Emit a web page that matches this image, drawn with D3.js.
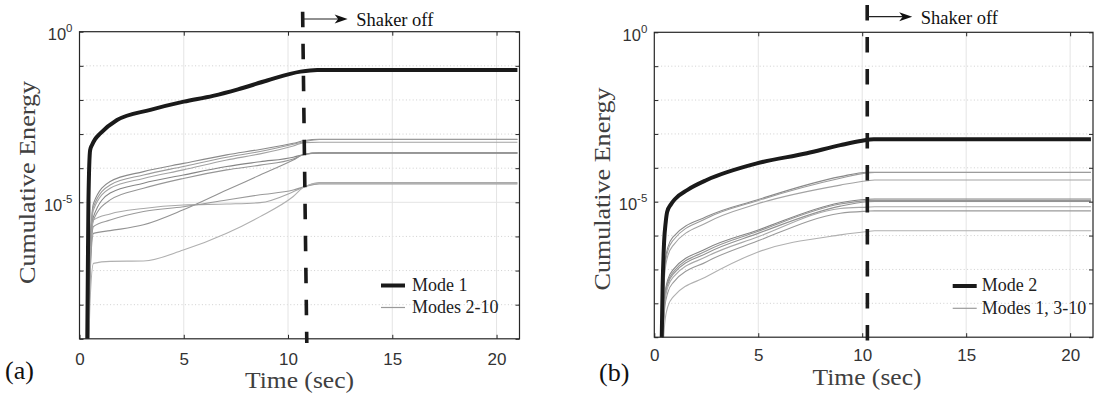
<!DOCTYPE html>
<html><head><meta charset="utf-8">
<script src="https://cdn.jsdelivr.net/npm/d3@7"></script>
<style>
body{margin:0;background:#fff;}
svg{display:block;}
</style></head><body>
<svg id="c" width="1094" height="395"></svg>
<script>
// ===== data (energies given as log10) =====
const xTicks = [0, 5, 10, 15, 20];
const xGrid = [5, 10, 15, 20];
const yLabelled = [1, 1e-5];
const yDecades = [1, 1e-1, 1e-2, 1e-3, 1e-4, 1e-5, 1e-6, 1e-7, 1e-8, 1e-9];
const yMinorGrid = [1e-1, 1e-2, 1e-3, 1e-4, 1e-6, 1e-7, 1e-8];

// Panel (a)
const tMode1 = [0.36, 0.40, 0.43, 0.51, 0.60, 0.75, 1.0, 1.8, 3.4, 5.0, 6.4, 7.6, 9.0, 10.6, 11.4, 21];
const mode1Log = [-10, -7, -4.93, -3.47, -3.32, -3.15, -2.98, -2.59, -2.29, -2.05, -1.88, -1.69, -1.43, -1.17, -1.12, -1.12];
const tOthersA = [0.40, 0.5, 0.67, 1.47, 3.07, 4.98, 7.06, 8.66, 10.25, 10.8, 11.5, 21];
const othersALog = [
  [-10, -6.5, -5.03, -4.39, -4.10, -3.86, -3.61, -3.45, -3.27, -3.19, -3.15, -3.15],
  [-10, -6.6, -5.13, -4.49, -4.20, -3.95, -3.68, -3.51, -3.30, -3.22, -3.16, -3.16],
  [-10, -6.7, -5.22, -4.59, -4.30, -4.05, -3.76, -3.58, -3.35, -3.25, -3.24, -3.24],
  [-10, -6.9, -5.42, -4.73, -4.44, -4.20, -3.95, -3.81, -3.68, -3.59, -3.55, -3.55],
  [-10, -7.0, -5.52, -4.93, -4.59, -4.30, -4.05, -3.91, -3.73, -3.59, -3.56, -3.56],
  [-10, -7.3, -5.91, -5.83, -5.66, -5.22, -4.64, -4.20, -3.76, -3.59, -3.55, -3.55],
  [-10, -7.0, -5.52, -5.34, -5.18, -5.08, -5.05, -5.01, -4.69, -4.54, -4.42, -4.42],
  [-10, -7.2, -5.71, -5.52, -5.27, -5.13, -4.93, -4.78, -4.64, -4.54, -4.46, -4.46],
  [-10, -8.0, -6.79, -6.73, -6.72, -6.40, -5.91, -5.42, -4.83, -4.54, -4.44, -4.44]
];
const shakerOffA = [10.70, 10.90];

// Panel (b)
const tMode2 = [0.33, 0.40, 0.47, 0.55, 0.62, 0.8, 1.0, 1.6, 2.52, 4.93, 7.34, 8.95, 10.0, 10.55, 21];
const mode2Log = [-10, -7.5, -6.2, -5.6, -5.3, -5.08, -4.92, -4.65, -4.36, -3.87, -3.57, -3.33, -3.20, -3.16, -3.16];
const tOthersB = [0.36, 0.5, 0.65, 0.92, 2.52, 4.93, 8.95, 10.24, 10.6, 21];
const othersBLog = [
  [-10, -6.9, -6.35, -6.03, -5.44, -4.95, -4.26, -4.13, -4.13, -4.13],
  [-10, -7.0, -6.45, -6.13, -5.49, -4.98, -4.31, -4.15, -4.14, -4.14],
  [-10, -7.15, -6.6, -6.28, -5.62, -5.07, -4.51, -4.38, -4.36, -4.36],
  [-10, -7.8, -7.3, -7.0, -6.38, -5.85, -5.03, -4.93, -4.92, -4.92],
  [-10, -7.85, -7.37, -7.07, -6.45, -5.89, -5.07, -4.97, -4.96, -4.96],
  [-10, -7.9, -7.43, -7.13, -6.52, -5.95, -5.13, -5.00, -4.99, -4.99],
  [-10, -8.0, -7.52, -7.22, -6.62, -6.05, -5.20, -5.16, -5.15, -5.15],
  [-10, -8.15, -7.68, -7.38, -6.77, -6.17, -5.34, -5.28, -5.27, -5.27],
  [-10, -8.6, -8.1, -7.8, -7.21, -6.5, -5.98, -5.88, -5.86, -5.86]
];
const shakerOffB = [10.24, 10.25];

const legendA = ["Mode 1", "Modes 2-10"];
const legendB = ["Mode 2", "Modes 1, 3-10"];
const panelLabels = ["(a)", "(b)"];
const grays = ['#8a8a8a', '#9c9c9c', '#a3a3a3', '#858585', '#969696', '#939393', '#a8a8a8', '#9a9a9a', '#b0b0b0'];

// ===== drawing =====
const svg = d3.select('#c');
const defs = svg.append('defs');
const serif = "'Liberation Serif','Times New Roman',serif";
const sans = "'Liberation Sans',Arial,Helvetica,sans-serif";

function zipLog(ts, logs) { return ts.map((t, i) => [t, Math.pow(10, logs[i])]); }

function drawPanel(p) {
  const x = d3.scaleLinear().domain([0, 21.1]).range([p.left, p.right]);
  const y = d3.scaleLog().domain([1e-9, 1]).range([p.bottom, p.top]);
  const g = svg.append('g');

  defs.append('clipPath').attr('id', 'clip' + p.id)
    .append('rect').attr('x', p.left).attr('y', p.top)
    .attr('width', p.right - p.left).attr('height', p.bottom - p.top);

  // minor dotted grid
  g.selectAll('line.minor').data(yMinorGrid).join('line').attr('class', 'minor')
    .attr('x1', p.left).attr('x2', p.right)
    .attr('y1', d => y(d)).attr('y2', d => y(d))
    .attr('stroke', '#c4c4c4').attr('stroke-width', 0.8).attr('stroke-dasharray', '1,2.4');
  // major grid
  g.selectAll('line.vg').data(xGrid).join('line').attr('class', 'vg')
    .attr('x1', d => x(d)).attr('x2', d => x(d))
    .attr('y1', p.top).attr('y2', p.bottom)
    .attr('stroke', '#e4e4e4').attr('stroke-width', 1);
  g.append('line').attr('x1', p.left).attr('x2', p.right)
    .attr('y1', y(1e-5)).attr('y2', y(1e-5))
    .attr('stroke', '#e4e4e4').attr('stroke-width', 1);

  // series
  const line = d3.line().x(d => x(d[0])).y(d => y(d[1])).curve(d3.curveMonotoneX);
  const lg = g.append('g').attr('clip-path', `url(#clip${p.id})`);
  p.others.forEach((s, i) => {
    lg.append('path').datum(zipLog(p.tOthers, s)).attr('d', line)
      .attr('fill', 'none').attr('stroke', grays[i % grays.length]).attr('stroke-width', 1.1);
  });
  lg.append('path').datum(zipLog(p.tMain, p.main)).attr('d', line)
    .attr('fill', 'none').attr('stroke', '#1a1a1a').attr('stroke-width', 4)
    .attr('stroke-linejoin', 'round');

  // axes (ticks inward)
  const styleAxis = sel => {
    sel.select('.domain').remove();
    sel.selectAll('.tick line').attr('stroke', '#262626').attr('stroke-width', 1);
  };
  g.append('g').attr('transform', `translate(0,${p.bottom})`)
    .call(d3.axisBottom(x).tickValues(xTicks).tickSize(-4).tickPadding(p.xTickPad))
    .call(styleAxis)
    .call(s => s.selectAll('.tick text').attr('fill', '#333').attr('font-family', sans).attr('font-size', 17));
  g.append('g').attr('transform', `translate(0,${p.top})`)
    .call(d3.axisTop(x).tickValues(xGrid).tickSize(-4).tickFormat(() => ''))
    .call(styleAxis);
  g.append('g').attr('transform', `translate(${p.left},0)`)
    .call(d3.axisLeft(y).tickValues(yDecades).tickSize(-4).tickFormat(() => ''))
    .call(styleAxis);
  g.append('g').attr('transform', `translate(${p.right},0)`)
    .call(d3.axisRight(y).tickValues(yDecades).tickSize(-4).tickFormat(() => ''))
    .call(styleAxis);

  // y tick labels with superscripts
  yLabelled.forEach(v => {
    const t = g.append('text').attr('x', p.left - 7).attr('y', y(v) + 8.5)
      .attr('text-anchor', 'end').attr('fill', '#333').attr('font-family', sans).attr('font-size', 16.5);
    t.append('tspan').text('10');
    t.append('tspan').attr('dy', -8).attr('font-size', 11.5).text(String(Math.round(Math.log10(v))));
  });

  // box
  g.append('rect').attr('x', p.left).attr('y', p.top)
    .attr('width', p.right - p.left).attr('height', p.bottom - p.top)
    .attr('fill', 'none').attr('stroke', '#262626').attr('stroke-width', 1.2);

  // axis titles
  g.append('text').attr('transform', `translate(${p.yLabelX},${p.yLabelY}) rotate(-90)`)
    .attr('text-anchor', 'middle').attr('font-family', serif).attr('font-size', 23.5)
    .attr('fill', '#404040').attr('textLength', 203).attr('lengthAdjust', 'spacingAndGlyphs')
    .text('Cumulative Energy');
  g.append('text').attr('x', p.xLabelX).attr('y', p.xLabelY)
    .attr('text-anchor', 'middle').attr('font-family', serif).attr('font-size', 22.5)
    .attr('fill', '#404040').attr('textLength', 109).attr('lengthAdjust', 'spacingAndGlyphs')
    .text('Time (sec)');

  // panel label
  g.append('text').attr('x', p.tagX).attr('y', p.tagY)
    .attr('font-family', serif).attr('font-size', 26).attr('fill', '#111')
    .text(p.tag);

  // shaker-off dashed line
  g.append('line')
    .attr('x1', x(p.shaker[0])).attr('y1', p.dashY0)
    .attr('x2', x(p.shaker[1])).attr('y2', p.dashY1)
    .attr('stroke', '#1a1a1a').attr('stroke-width', 3.6).attr('stroke-dasharray', '15.5,16.5');

  // arrow + text
  const ax0 = x(p.shaker[0]), ay = p.arrowY, tip = ax0 + 45;
  g.append('line').attr('x1', ax0).attr('x2', tip - 6).attr('y1', ay).attr('y2', ay)
    .attr('stroke', '#222').attr('stroke-width', 1.2);
  g.append('path')
    .attr('d', `M${tip},${ay} L${tip - 13},${ay - 4.5} L${tip - 9.5},${ay} L${tip - 13},${ay + 4.5} Z`)
    .attr('fill', '#111');
  g.append('text').attr('x', tip + 8.5).attr('y', ay + 7)
    .attr('font-family', serif).attr('font-size', 18.5).attr('fill', '#111')
    .text('Shaker off');

  // legend
  const lgX0 = p.legX, lgX1 = p.legX + 24;
  g.append('line').attr('x1', lgX0).attr('x2', lgX1).attr('y1', p.legY0).attr('y2', p.legY0)
    .attr('stroke', '#1a1a1a').attr('stroke-width', 4);
  g.append('line').attr('x1', lgX0).attr('x2', lgX1).attr('y1', p.legY1).attr('y2', p.legY1)
    .attr('stroke', '#9a9a9a').attr('stroke-width', 1.2);
  g.append('text').attr('x', lgX1 + p.legGap).attr('y', p.legY0 + 5)
    .attr('font-family', serif).attr('font-size', 18).attr('fill', '#222').text(p.legend[0]);
  g.append('text').attr('x', lgX1 + p.legGap).attr('y', p.legY1 + 5.5)
    .attr('font-family', serif).attr('font-size', 18).attr('fill', '#222').text(p.legend[1]);
}

drawPanel({
  id: 'a', left: 79.5, right: 519.5, top: 31.7, bottom: 338.8, xTickPad: 14,
  tMain: tMode1, main: mode1Log, tOthers: tOthersA, others: othersALog,
  yLabelX: 34.5, yLabelY: 182.5, xLabelX: 299.5, xLabelY: 388,
  tag: panelLabels[0], tagX: 5, tagY: 379,
  shaker: shakerOffA, dashY0: 11.7, dashY1: 343, arrowY: 19,
  legX: 381, legGap: 7, legY0: 285.5, legY1: 307.5, legend: legendA
});
drawPanel({
  id: 'b', left: 654.3, right: 1093, top: 32.3, bottom: 337.2, xTickPad: 12,
  tMain: tMode2, main: mode2Log, tOthers: tOthersB, others: othersBLog,
  yLabelX: 610, yLabelY: 189, xLabelX: 867, xLabelY: 385,
  tag: panelLabels[1], tagX: 599, tagY: 381,
  shaker: shakerOffB, dashY0: 5, dashY1: 342, arrowY: 16.7,
  legX: 952.7, legGap: 5, legY0: 286, legY1: 308.3, legend: legendB
});
</script>
</body></html>
